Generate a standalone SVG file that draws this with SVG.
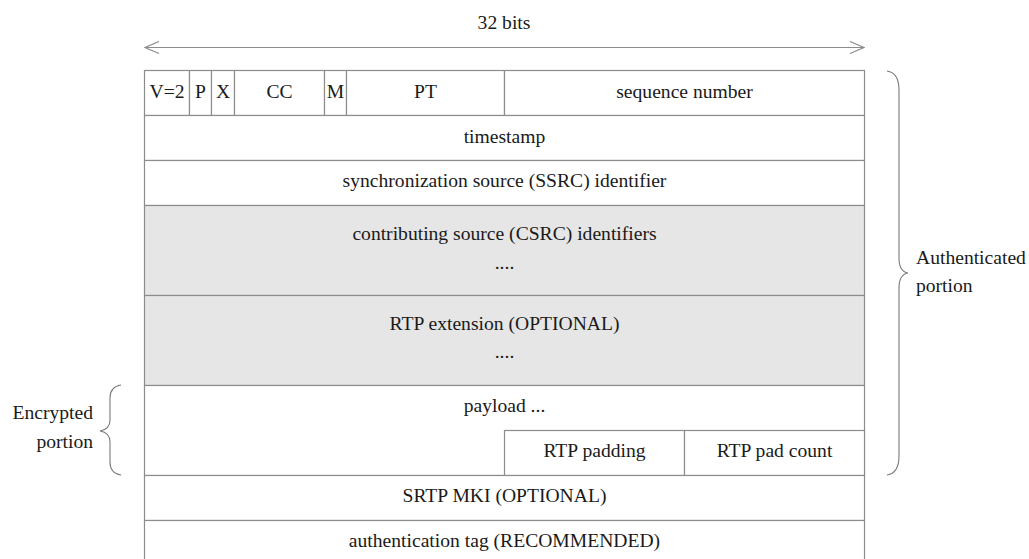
<svg xmlns="http://www.w3.org/2000/svg" width="1029" height="559" viewBox="0 0 1029 559">
  <defs>
    <style>
      .cell { fill: #ffffff; stroke: #8c8c8c; stroke-width: 1.2; }
      .opt { fill: #e6e6e6; stroke: #8c8c8c; stroke-width: 1.2; }
      .lbl { text-anchor: middle; }
      .brace { fill: none; stroke: #7a7a7a; stroke-width: 1.1; }
      .dim { fill: none; stroke: #8c8c8c; stroke-width: 1.2; }
    </style>
    <marker id="chev" viewBox="0 0 16 14" refX="15" refY="7" markerWidth="16" markerHeight="14" markerUnits="userSpaceOnUse" orient="auto-start-reverse">
      <path d="M1,1 L15,7 L1,13" fill="none" stroke="#8c8c8c" stroke-width="1.2"/>
    </marker>
  </defs>

  <rect width="1029" height="559" fill="#ffffff"/>

  <g font-family="Liberation Serif, Tinos, DejaVu Serif, serif" font-size="19.6" fill="#1a1a1a">
  <!-- width indicator -->
  <g id="connectors">
    <text class="lbl" x="504" y="29">32 bits</text>
    <line class="dim" x1="145" y1="47.5" x2="864" y2="47.5" marker-start="url(#chev)" marker-end="url(#chev)"/>
  </g>

  <!-- first header word: 22.5 px per bit -->
  <g id="field-version"><rect class="cell" x="144.5" y="70.5" width="45" height="45"/><text class="lbl" x="167" y="98">V=2</text></g>
  <g id="field-padding-bit"><rect class="cell" x="189.5" y="70.5" width="22" height="45"/><text class="lbl" x="200.5" y="98">P</text></g>
  <g id="field-extension-bit"><rect class="cell" x="211.5" y="70.5" width="23" height="45"/><text class="lbl" x="223" y="98">X</text></g>
  <g id="field-cc"><rect class="cell" x="234.5" y="70.5" width="90" height="45"/><text class="lbl" x="279.5" y="98">CC</text></g>
  <g id="field-marker"><rect class="cell" x="324.5" y="70.5" width="22" height="45"/><text class="lbl" x="335.5" y="98">M</text></g>
  <g id="field-pt"><rect class="cell" x="346.5" y="70.5" width="158" height="45"/><text class="lbl" x="425.5" y="98">PT</text></g>
  <g id="field-sequence"><rect class="cell" x="504.5" y="70.5" width="360" height="45"/><text class="lbl" x="684.5" y="98">sequence number</text></g>

  <g id="field-timestamp"><rect class="cell" x="144.5" y="115.5" width="720" height="45"/><text class="lbl" x="504.5" y="142.5">timestamp</text></g>
  <g id="field-ssrc"><rect class="cell" x="144.5" y="160.5" width="720" height="45"/><text class="lbl" x="504.5" y="187">synchronization source (SSRC) identifier</text></g>

  <g id="field-csrc"><rect class="opt" x="144.5" y="205.5" width="720" height="90"/><text class="lbl" x="504.5" y="240">contributing source (CSRC) identifiers</text><text class="lbl" x="504.5" y="269">....</text></g>
  <g id="field-rtp-extension"><rect class="opt" x="144.5" y="295.5" width="720" height="90"/><text class="lbl" x="504.5" y="330">RTP extension (OPTIONAL)</text><text class="lbl" x="504.5" y="358">....</text></g>

  <g id="field-payload"><rect class="cell" x="144.5" y="385.5" width="720" height="90"/><text class="lbl" x="504.5" y="412">payload ...</text></g>
  <g id="field-rtp-padding"><rect class="cell" x="504.5" y="430.5" width="180" height="45"/><text class="lbl" x="594.5" y="457">RTP padding</text></g>
  <g id="field-rtp-pad-count"><rect class="cell" x="684.5" y="430.5" width="180" height="45"/><text class="lbl" x="774.5" y="457">RTP pad count</text></g>

  <g id="field-mki"><rect class="cell" x="144.5" y="475.5" width="720" height="45"/><text class="lbl" x="504.5" y="502">SRTP MKI (OPTIONAL)</text></g>
  <g id="field-auth-tag"><rect class="cell" x="144.5" y="520.5" width="720" height="45"/><text class="lbl" x="504.5" y="547">authentication tag (RECOMMENDED)</text></g>

  <!-- coverage braces -->
  <g id="authenticated-portion">
    <path class="brace" d="M887,71 C894,72 899,78 899,90 L899,258 C899,268 902,272 908,273 C902,274 899,278 899,288 L899,456 C899,468 894,474 887,475"/>
    <text x="916" y="264">Authenticated</text>
    <text x="916" y="292">portion</text>
  </g>
  <g id="encrypted-portion">
    <path class="brace" d="M121,385 C114,386 110,390 110,398 L110,420 C110,427 106,430 100,431 C106,432 110,435 110,442 L110,462 C110,470 114,474 121,475"/>
    <text x="93" y="419" text-anchor="end">Encrypted</text>
    <text x="93" y="448" text-anchor="end">portion</text>
  </g>
  </g>
</svg>
